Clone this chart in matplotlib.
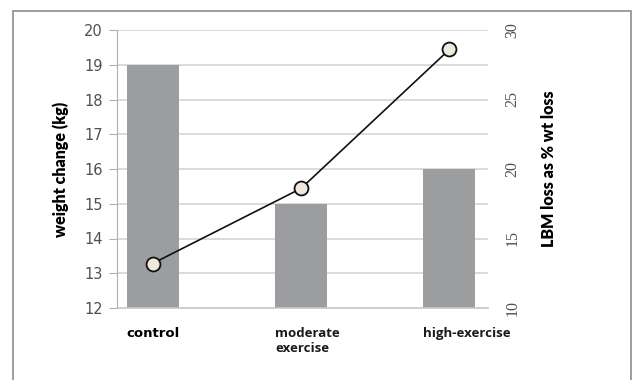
import matplotlib
matplotlib.use("Agg")
import matplotlib.pyplot as plt
from matplotlib.patches import Rectangle
import numpy as np

categories = ["control", "moderate\nexercise", "high-exercise"]
weight_change = [19, 15, 16]          # kg, bars (left axis)
lbm_loss_pct = [13.2, 18.6, 28.6]     # % of weight loss, line (right axis)

fig = plt.figure(figsize=(6.42, 3.80), dpi=100)
ax = fig.add_axes([117 / 642, 1 - 308 / 380, (488 - 117) / 642, (308 - 30) / 380])

x = np.arange(len(categories))
bar_w = 0.35
ax.bar(x, weight_change, width=bar_w, color="#9b9d9f", zorder=2)
ax.set_ylim(12, 20)
ax.set_xlim(-0.24, 2.26)
ax.set_yticks(range(12, 21))
ax.grid(axis="y", color="#d4d4d4", linewidth=1.2, zorder=0)
ax.set_axisbelow(True)

for side in ("top", "right"):
    ax.spines[side].set_visible(False)
ax.spines["left"].set_color("#b0b0b0")
ax.spines["bottom"].set_color("#c8c8c8")
ax.spines["bottom"].set_linewidth(1.2)
ax.tick_params(axis="y", length=6, color="#b0b0b0", labelsize=10.5,
               labelcolor="#505050", pad=4)
for lbl in ax.get_yticklabels():
    lbl.set_fontfamily("DejaVu Sans")

# category labels start at the left edge of each bar
ax.set_xticks(x - bar_w / 2)
ax.set_xticklabels(categories, ha="left", va="top", fontsize=9.5,
                   fontweight="bold", color="#1a1a1a", linespacing=1.2)
xlabels = ax.get_xticklabels()
xlabels[0].set_fontfamily("DejaVu Sans")
xlabels[0].set_color("#000000")
for lbl in xlabels[1:]:
    lbl.set_fontfamily(["Open Sans", "DejaVu Sans"])
ax.tick_params(axis="x", length=0, pad=14)

ax.set_ylabel("weight change (kg)", fontsize=11.5, fontweight="heavy",
              fontfamily=["Lato", "DejaVu Sans"], labelpad=11)

ax2 = ax.twinx()
ax2.plot(x, lbm_loss_pct, color="#111111", linewidth=1.2, marker="o",
         markersize=10, markerfacecolor="#efe8dc", markeredgecolor="#111111",
         markeredgewidth=1.3, zorder=5)
ax2.set_ylim(10, 30)
ax2.set_yticks([10, 15, 20, 25, 30])
for side in ("top", "right", "left", "bottom"):
    ax2.spines[side].set_visible(False)
ax2.tick_params(axis="y", length=0, pad=12, labelsize=11.5, labelcolor="#505050")
for lbl in ax2.get_yticklabels():
    lbl.set_rotation(90)
    lbl.set_va("center")
    lbl.set_fontfamily(["Liberation Serif", "DejaVu Serif"])
ax2.set_ylabel("LBM loss as % wt loss", fontsize=11.5, fontweight="heavy",
               fontfamily=["Lato", "DejaVu Sans"], labelpad=15)

# outer frame
fig.patches.append(Rectangle((13 / 642, -0.05), (631 - 13) / 642, 1 - 11 / 380 + 0.05,
                             transform=fig.transFigure, fill=False,
                             edgecolor="#8c8c8c", linewidth=1.2))

fig.savefig("out.png", dpi=100)
